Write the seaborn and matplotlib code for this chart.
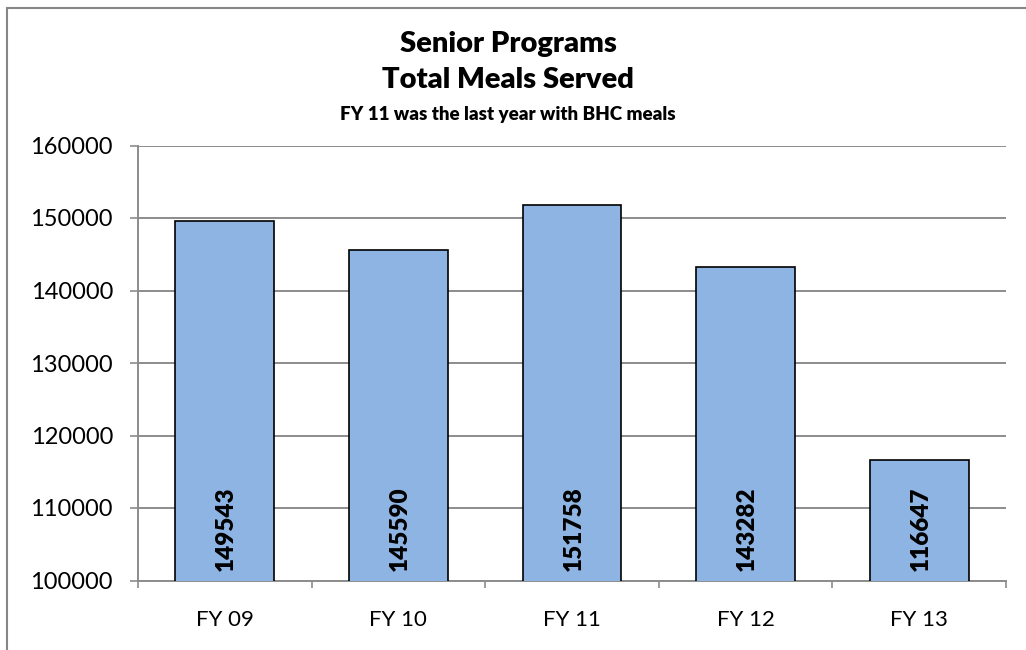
import numpy as np
import pandas as pd
import matplotlib
matplotlib.use('Agg')
import matplotlib.pyplot as plt
from matplotlib.lines import Line2D
import seaborn as sns

# dados
years = ['FY 09', 'FY 10', 'FY 11', 'FY 12', 'FY 13']
meals = [149543, 145590, 151758, 143282, 116647]
y_ticks = [100000, 110000, 120000, 130000, 140000, 150000, 160000]

BAR_COLOR = '#8EB4E3'
GRID_COLOR = '#8C8C8C'

sns.set_style('white')
plt.rcParams['font.family'] = ['Lato', 'DejaVu Sans']
plt.rcParams['text.color'] = 'black'
plt.rcParams['xtick.labelcolor'] = 'black'
plt.rcParams['ytick.labelcolor'] = 'black'

df = pd.DataFrame({'Ano': years, 'Refeicoes': meals})

fig = plt.figure(figsize=(10.26, 6.5), dpi=100)
ax = fig.add_axes([138 / 1026, 1 - 580.5 / 650, (1006 - 138) / 1026, (580.5 - 145.5) / 650])

sns.barplot(data=df, x='Ano', y='Refeicoes', color=BAR_COLOR, width=0.57,
            edgecolor='black', linewidth=1.2, saturation=1, ax=ax, zorder=3)

ax.set_ylim(y_ticks[0], y_ticks[-1])
ax.set_xlim(-0.5, len(years) - 0.5)
ax.set_yticks(y_ticks)
ax.set_yticklabels([str(v) for v in y_ticks], fontsize=17)
ax.yaxis.grid(True, color=GRID_COLOR, linewidth=1.4, zorder=0)
ax.set_axisbelow(True)
ax.tick_params(axis='y', length=6, width=1.2, color=GRID_COLOR, pad=12, left=True,
               labelcolor='black')

# marcas entre categorias, rotulos no centro
ax.set_xticks(np.arange(-0.5, len(years), 1))
ax.set_xticklabels([''] * (len(years) + 1))
ax.set_xticks(np.arange(len(years)), minor=True)
ax.set_xticklabels(years, minor=True, fontsize=16)
ax.tick_params(axis='x', which='major', length=5, width=1.2, color=GRID_COLOR, bottom=True)
ax.tick_params(axis='x', which='minor', length=0, pad=21, labelcolor='black')

ax.set_xlabel('')
ax.set_ylabel('')
for side in ['top', 'right']:
    ax.spines[side].set_visible(False)
for side in ['left', 'bottom']:
    ax.spines[side].set_color(GRID_COLOR)
    ax.spines[side].set_linewidth(1.4)

# valores dentro das barras
for i, v in enumerate(meals):
    ax.annotate(str(v), xy=(i, y_ticks[0]), xytext=(1, 7), textcoords='offset points',
                rotation=90, ha='center', va='bottom', fontsize=17.5, fontweight='heavy',
                color='black', zorder=4)

# titulos
fig.text(508 / 1026, 1 - 52 / 650, 'Senior Programs', ha='center', va='baseline',
         fontsize=21, fontweight='heavy', color='black')
fig.text(508 / 1026, 1 - 88 / 650, 'Total Meals Served', ha='center', va='baseline',
         fontsize=21, fontweight='heavy', color='black')
fig.text(508 / 1026, 1 - 120 / 650, 'FY 11 was the last year with BHC meals', ha='center',
         va='baseline', fontsize=13.5, fontweight='heavy', color='black')

# borda do grafico
bx, by = 7 / 1026, 1 - 8 / 650
fig.add_artist(Line2D([bx, bx], [0, by], color='#868686', linewidth=1.5, transform=fig.transFigure))
fig.add_artist(Line2D([bx, 1], [by, by], color='#868686', linewidth=1.5, transform=fig.transFigure))

fig.savefig('out.png', dpi=100)
